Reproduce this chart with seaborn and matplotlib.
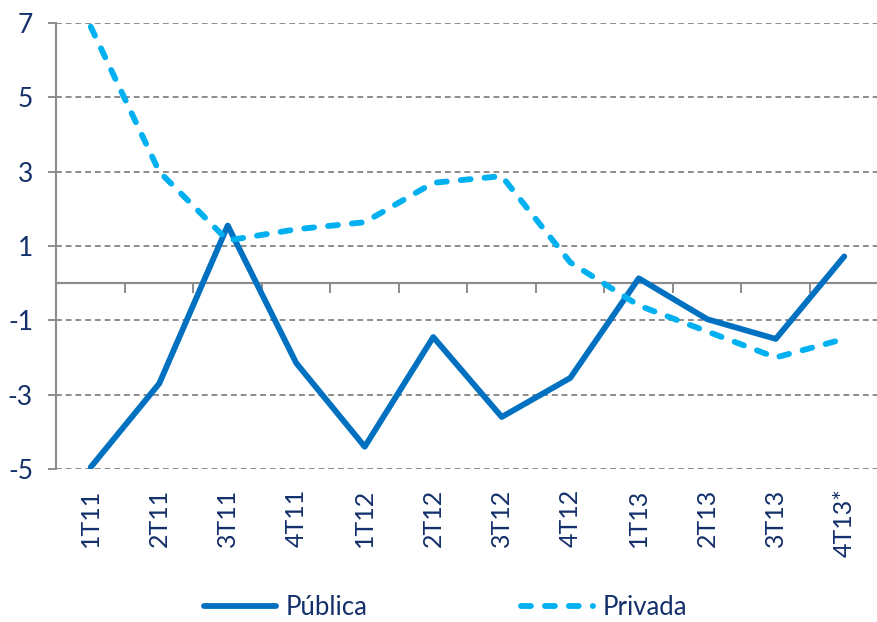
import matplotlib
matplotlib.use("Agg")
import matplotlib.pyplot as plt
import seaborn as sns
import pandas as pd
import numpy as np

categories = ["1T11", "2T11", "3T11", "4T11", "1T12", "2T12", "3T12", "4T12",
              "1T13", "2T13", "3T13", "4T13*"]
publica = [-4.95, -2.7, 1.55, -2.15, -4.4, -1.45, -3.6, -2.55, 0.13, -0.97, -1.5, 0.72]
privada = [6.9, 3.0, 1.15, 1.45, 1.64, 2.7, 2.88, 0.56, -0.6, -1.3, -2.0, -1.5]
yticks = [7, 5, 3, 1, -1, -3, -5]

sns.set_theme(style="white")
plt.rcParams['font.family'] = ['Lato', 'DejaVu Sans']

text_color = "#14306B"
grid_color = "#8C8C8C"

df = pd.DataFrame({"pos": np.arange(len(categories)), "cat": categories,
                   "Pública": publica, "Privada": privada})

fig = plt.figure(figsize=(8.77, 6.22), dpi=100)
ax = fig.add_axes([56.5 / 877, (622 - 469) / 622, 822 / 877, 446 / 622])

for y in yticks:
    ax.axhline(y, color=grid_color, lw=1.4, ls=(0, (3, 2)), zorder=1)
ax.axhline(0, color=grid_color, lw=1.5, zorder=1)

sns.lineplot(data=df, x="pos", y="Pública", ax=ax, color="#0070C0", lw=4.2,
             label="Pública", zorder=3, solid_capstyle="round")
sns.lineplot(data=df, x="pos", y="Privada", ax=ax, color="#00B0F0", lw=4.2,
             label="Privada", zorder=3, dashes=False)
ln = ax.lines[-1]
ln.set_linestyle((0, (1.7, 2.4)))
ln.set_dash_capstyle("round")

ax.set_xlim(-0.5, len(categories) - 0.5)
ax.set_ylim(-5, 7)
ax.set_yticks(yticks)
ax.set_yticklabels([str(v) for v in yticks], fontsize=19, color=text_color)
ax.tick_params(axis="y", direction="out", length=6, width=1.4, color=grid_color,
               pad=11, left=True)
ax.set_xlabel("")
ax.set_ylabel("")

for s in ["top", "right"]:
    ax.spines[s].set_visible(False)
ax.spines["left"].set_color(grid_color)
ax.spines["left"].set_linewidth(1.5)
ax.spines["bottom"].set_position(("data", 0))
ax.spines["bottom"].set_color(grid_color)
ax.spines["bottom"].set_linewidth(1.5)
ax.set_xticks(np.arange(len(categories)))
ax.set_xticklabels([])
ax.tick_params(axis="x", which="major", length=0)
ax.set_xticks(np.arange(len(categories) - 1) + 0.5, minor=True)
ax.tick_params(axis="x", which="minor", direction="out", length=7, width=1.4,
               color=grid_color, bottom=True)

sec = ax.secondary_xaxis("bottom")
sec.set_xticks(np.arange(len(categories)))
sec.set_xticklabels(categories, rotation=90, fontsize=18, color=text_color)
sec.tick_params(length=0, pad=14)
sec.spines["bottom"].set_visible(False)

handles, labels = ax.get_legend_handles_labels()
ax.get_legend().remove()
leg = fig.legend(handles, labels, loc="center", bbox_to_anchor=(0.508, 0.024),
                 ncol=2, frameon=False, fontsize=18.5, handlelength=2.8,
                 handletextpad=0.35, columnspacing=6.0, borderpad=0.1)
for t in leg.get_texts():
    t.set_color(text_color)

fig.savefig("out.png", dpi=100)
